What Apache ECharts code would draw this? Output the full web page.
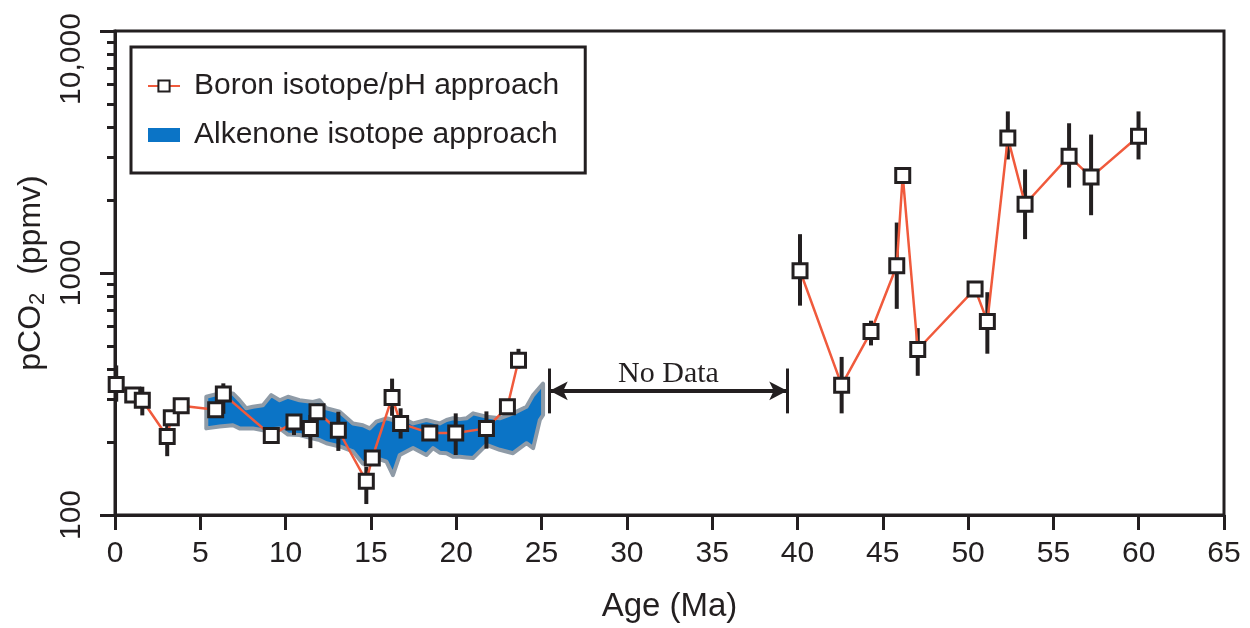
<!DOCTYPE html>
<html>
<head>
<meta charset="utf-8">
<script src="https://cdn.jsdelivr.net/npm/echarts@6/dist/echarts.min.js"></script>
<style>
  html, body { margin: 0; padding: 0; background: #fff; }
  #chart { width: 1250px; height: 628px; }
</style>
</head>
<body>
<div id="chart"></div>
<script>
// boron isotope / pH estimates (age in Ma, pCO2 in ppmv, error bar ends)
var boronAge = [0.07, 1.04, 1.6, 3.06, 3.3, 3.88, 5.9, 6.35, 9.16, 10.49, 11.45, 11.84, 13.09, 14.73, 15.08, 16.24, 16.74, 18.45, 19.97, 21.77, 23.0, 23.65,
                40.15, 42.59, 44.31, 45.82, 46.17, 47.05, 50.41, 51.13, 52.33, 53.34, 55.92, 57.21, 59.99];
var boronCO2 = [346, 313, 298, 211, 252, 283, 272, 316, 213, 242, 228, 267, 224, 138, 172, 306, 239, 218, 218, 228, 280, 436,
                1022, 344, 573, 1072, 2531, 483, 859, 630, 3616, 1923, 3039, 2491, 3672];
var boronLow = [294, 300, 258, 175, 240, 270, 258, 262, 205, 214, 189, 255, 184, 111, 165, 257, 207, 212, 177, 188, 275, 403,
                733, 263, 502, 711, 2380, 376, 830, 464, 2946, 1380, 2253, 1733, 2946];
var boronHigh = [415, 330, 339, 251, 265, 297, 290, 350, 222, 255, 259, 285, 267, 158, 180, 366, 276, 225, 263, 268, 285, 486,
                 1447, 450, 635, 1616, 2700, 592, 890, 833, 4653, 2679, 4157, 3733, 4653];
var boronBreakAfter = 21; // no line across the data gap

// alkenone band (upper / lower edge)
var bandAge = [5.35, 6.13, 6.91, 7.30, 7.69, 8.08, 8.67, 9.16, 9.65, 10.14, 10.82, 11.60, 11.99, 12.39, 13.17, 13.95, 14.53, 14.93, 15.32,
               15.91, 16.29, 16.69, 17.47, 18.25, 18.64, 19.03, 19.43, 19.81, 20.21, 20.60, 20.99, 21.77, 22.55, 23.33, 24.12, 24.51, 24.90, 25.09];
var bandHigh = [308, 318, 318, 298, 276, 280, 284, 313, 298, 308, 298, 293, 298, 276, 267, 239, 235, 228, 243,
                251, 247, 255, 239, 247, 243, 239, 247, 251, 249, 251, 263, 255, 251, 263, 280, 313, 337, 349];
var bandLow = [228, 232, 235, 228, 228, 228, 224, 226, 228, 215, 214, 207, 204, 198, 192, 183, 163, 169, 172,
               166, 146, 177, 189, 177, 189, 181, 180, 174, 174, 173, 172, 195, 186, 180, 198, 189, 247, 259];

// "No Data" marker
var noDataAges = [25.48, 39.40];
var noDataArrow = 326;
var noDataBar = [263, 403];

var xTicks = [0, 65, 5]; // min, max, interval

var ink = '#231f20';
var chart = echarts.init(document.getElementById('chart'));

var boronData = [];
boronAge.forEach(function (a, i) {
    boronData.push([a, boronCO2[i]]);
    if (i === boronBreakAfter) boronData.push(['-', '-']);
});

var option = {
    animation: false,
    grid: { left: 115, right: 26, top: 31, bottom: 111, show: true, borderColor: ink, borderWidth: 3, backgroundColor: 'transparent' },
    legend: {
        orient: 'vertical',
        left: 131, top: 47,
        padding: [24, 26, 23, 16],
        itemGap: 19,
        itemWidth: 32, itemHeight: 14,
        borderColor: ink, borderWidth: 3,
        selectedMode: false,
        textStyle: { fontSize: 30, color: ink, fontFamily: 'Liberation Sans', padding: [0, 0, 0, 9] },
        data: [
            { name: 'Boron isotope/pH approach' },
            { name: 'Alkenone isotope approach', icon: 'rect' }
        ]
    },
    xAxis: {
        type: 'value', min: xTicks[0], max: xTicks[1], interval: xTicks[2],
        name: 'Age (Ma)', nameLocation: 'middle', nameGap: 75,
        nameTextStyle: { fontSize: 33, color: ink, fontFamily: 'Liberation Sans' },
        axisLine: { lineStyle: { color: ink, width: 3 } },
        axisTick: { length: 15, lineStyle: { color: ink, width: 3 } },
        axisLabel: { fontSize: 30, color: ink, margin: 24, fontFamily: 'Liberation Sans' },
        splitLine: { show: false }
    },
    yAxis: {
        type: 'log', logBase: 10, min: 100, max: 10000,
        name: '{a|pCO}{s|2}{a|  (ppmv)}', nameLocation: 'middle', nameGap: 66,
        nameTextStyle: {
            color: ink, fontFamily: 'Liberation Sans',
            rich: {
                a: { fontSize: 32, color: ink, fontFamily: 'Liberation Sans' },
                s: { fontSize: 22, color: ink, fontFamily: 'Liberation Sans', padding: [14, 0, 0, 0] }
            }
        },
        axisLine: { lineStyle: { color: ink, width: 3 } },
        axisTick: { length: 15, lineStyle: { color: ink, width: 3 } },
        minorTick: { show: true, splitNumber: 9, length: 8, lineStyle: { color: ink, width: 3 } },
        axisLabel: {
            rotate: 90, fontSize: 30, color: ink, margin: 28, fontFamily: 'Liberation Sans',
            formatter: function (v) {
                if (v >= 10000) return '{top|10,000}';
                return String(v);
            },
            rich: { top: { fontSize: 30, color: ink, fontFamily: 'Liberation Sans', padding: [0, 56, 0, 0] } }
        },
        splitLine: { show: false },
        minorSplitLine: { show: false }
    },
    series: [
        {
            name: 'Alkenone isotope approach',
            type: 'custom',
            z: 1,
            itemStyle: { color: '#0b74c6' },
            data: bandAge.map(function (a, i) { return [a, bandLow[i], bandHigh[i]]; }),
            encode: { x: 0, y: [1, 2] },
            renderItem: function (params, api) {
                if (params.dataIndex !== 0) return null;
                var pts = [];
                for (var i = 0; i < bandAge.length; i++) pts.push(api.coord([bandAge[i], bandHigh[i]]));
                for (var j = bandAge.length - 1; j >= 0; j--) pts.push(api.coord([bandAge[j], bandLow[j]]));
                return {
                    type: 'polygon',
                    shape: { points: pts },
                    style: { fill: '#0b74c6', stroke: '#8f9ba7', lineWidth: 4, lineJoin: 'round' }
                };
            }
        },
        {
            name: 'errors',
            type: 'custom',
            z: 2,
            data: boronAge.map(function (a, i) { return [a, boronLow[i], boronHigh[i]]; }),
            encode: { x: 0, y: [1, 2] },
            renderItem: function (params, api) {
                var p1 = api.coord([api.value(0), api.value(1)]);
                var p2 = api.coord([api.value(0), api.value(2)]);
                return {
                    type: 'line',
                    shape: { x1: p1[0], y1: p1[1], x2: p2[0], y2: p2[1] },
                    style: { stroke: ink, lineWidth: 4 }
                };
            }
        },
        {
            name: 'Boron isotope/pH approach',
            type: 'line',
            z: 3,
            data: boronData,
            connectNulls: false,
            symbol: 'rect', symbolSize: 14, showAllSymbol: true,
            lineStyle: { color: '#f05a3c', width: 2.5 },
            itemStyle: { color: '#fff', borderColor: ink, borderWidth: 3 },
            markLine: {
                silent: true,
                symbol: 'none',
                lineStyle: { color: ink, width: 3, type: 'solid' },
                label: { show: false },
                data: [
                    [{ coord: [noDataAges[0], noDataBar[0]] }, { coord: [noDataAges[0], noDataBar[1]] }],
                    [{ coord: [noDataAges[1], noDataBar[0]] }, { coord: [noDataAges[1], noDataBar[1]] }],
                    [
                        { coord: [noDataAges[0], noDataArrow], symbol: 'arrow', symbolSize: [14, 18], symbolRotate: 90,
                          lineStyle: { width: 4 },
                          label: { show: true, position: 'middle', formatter: 'No Data', fontSize: 30, color: ink,
                                   fontFamily: 'Liberation Serif', distance: 2 } },
                        { coord: [noDataAges[1], noDataArrow], symbol: 'arrow', symbolSize: [14, 18], symbolRotate: -90 }
                    ]
                ]
            }
        }
    ]
};
chart.setOption(option);
</script>
</body>
</html>
